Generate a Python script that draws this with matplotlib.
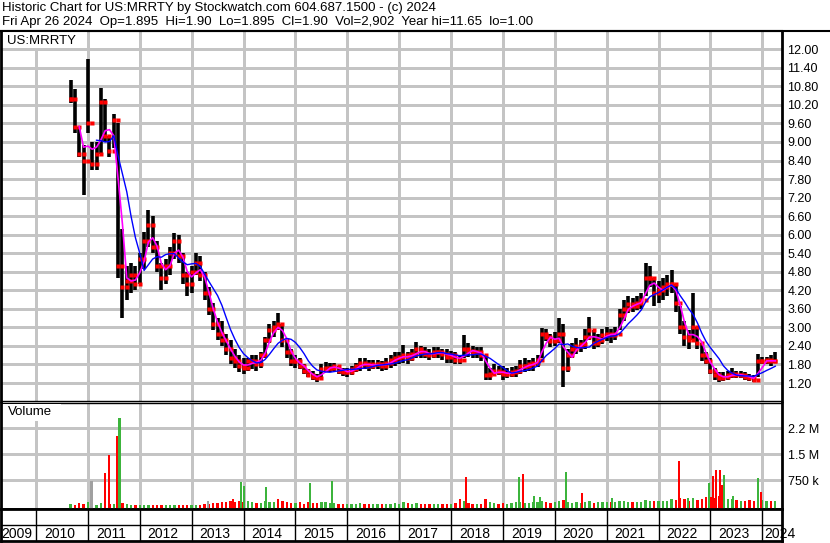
import numpy as np
import pandas as pd
import matplotlib
matplotlib.use("Agg")
import matplotlib.pyplot as plt
from matplotlib.lines import Line2D
from matplotlib.patches import Rectangle

plt.rcParams['font.family'] = ['Liberation Sans', 'DejaVu Sans']

# monthly bars, Sep 2010 .. Apr 2024
months = pd.date_range("2010-09-01", "2024-04-01", freq="MS")

hi = [11.0, 10.7, 9.5, 8.9,
      11.68, 9.0, 9.0, 10.74, 10.4, 9.2, 9.9, 9.6, 6.2, 5.0, 5.1, 5.0,
      5.4, 6.1, 6.8, 6.6, 5.8, 5.1, 5.2, 5.6, 6.05, 6.0, 5.4, 4.8,
      5.0, 5.4, 5.3, 4.8, 4.3, 3.8, 3.3, 3.2, 2.8, 2.6, 2.3, 2.1,
      2.0, 2.0, 2.1, 2.1, 2.2, 2.7, 3.1, 3.2, 3.46, 3.1, 2.6, 2.3,
      2.1, 2.0, 1.8, 1.65, 1.6, 1.5, 1.8, 1.87, 1.85, 1.85, 1.75, 1.7,
      1.7, 1.75, 1.85, 2.0, 2.0, 1.95, 1.95, 1.95, 1.9, 2.0, 2.1, 2.2,
      2.2, 2.43, 2.2, 2.3, 2.53, 2.4, 2.35, 2.3, 2.35, 2.35, 2.3, 2.3,
      2.25, 2.2, 2.1, 2.75, 2.5, 2.4, 2.35, 2.35, 2.1, 1.7, 1.8, 1.75,
      1.75, 1.7, 1.72, 1.75, 1.95, 2.0, 1.95, 2.0, 2.1, 2.97, 2.95, 2.8,
      2.85, 3.3, 3.1, 2.3, 2.5, 2.65, 2.6, 2.95, 3.35, 2.9, 2.8, 2.95,
      3.0, 2.95, 3.0, 3.6, 3.9, 4.0, 3.95, 4.0, 4.1, 5.1, 5.0, 4.6,
      4.5, 4.6, 4.7, 4.86, 4.4, 3.7, 3.2, 2.9, 4.1, 3.0, 2.5, 2.2,
      2.0, 1.7, 1.55, 1.55, 1.6, 1.67, 1.6, 1.6, 1.55, 1.5, 1.45, 2.15,
      2.05, 2.05, 2.1, 2.2]
lo = [10.25, 9.3, 8.5, 7.3,
      9.3, 8.1, 8.1, 8.6, 9.0, 8.5, 8.8, 4.6, 3.3, 3.9, 4.1, 4.2,
      4.4, 4.9, 5.6, 5.4, 4.8, 4.2, 4.4, 4.7, 5.2, 5.1, 4.4, 4.0,
      4.1, 4.7, 4.5, 3.9, 3.4, 2.9, 2.6, 2.4, 2.1, 1.8, 1.7, 1.55,
      1.5, 1.6, 1.65, 1.6, 1.7, 2.0, 2.5, 2.7, 2.9, 2.35, 2.0, 1.75,
      1.7, 1.65, 1.5, 1.4, 1.3, 1.24, 1.35, 1.55, 1.55, 1.6, 1.5, 1.42,
      1.4, 1.45, 1.55, 1.6, 1.65, 1.6, 1.65, 1.65, 1.6, 1.62, 1.7, 1.75,
      1.8, 1.85, 1.8, 1.9, 2.0, 2.0, 2.0, 1.95, 2.0, 2.0, 1.95, 1.85,
      1.85, 1.8, 1.8, 2.0, 2.05, 2.0, 2.0, 1.9, 1.3, 1.3, 1.45, 1.45,
      1.3, 1.35, 1.4, 1.4, 1.5, 1.55, 1.6, 1.6, 1.73, 2.0, 2.55, 2.37,
      2.4, 2.5, 1.08, 1.55, 2.0, 2.15, 2.2, 2.3, 2.6, 2.3, 2.35, 2.45,
      2.55, 2.5, 2.6, 2.9, 3.2, 3.45, 3.5, 3.55, 3.6, 4.0, 4.3, 3.7,
      3.8, 3.9, 4.0, 4.1, 3.5, 2.8, 2.4, 2.3, 2.6, 2.3, 1.9, 1.8,
      1.5, 1.3, 1.23, 1.28, 1.3, 1.35, 1.35, 1.35, 1.3, 1.25, 1.22, 1.4,
      1.8, 1.8, 1.75, 1.85]
cl = [10.4, 9.5, 8.6, 8.4,
      9.6, 8.3, 8.6, 10.3, 9.2, 8.7, 9.7, 5.0, 4.3, 4.5, 4.7, 4.4,
      5.2, 5.8, 6.3, 5.6, 5.0, 4.6, 5.0, 5.4, 5.8, 5.3, 4.7, 4.4,
      4.8, 5.1, 4.7, 4.1, 3.6, 3.1, 2.8, 2.6, 2.3, 2.0, 1.9, 1.75,
      1.7, 1.9, 1.9, 1.8, 2.1, 2.6, 2.9, 3.0, 3.1, 2.6, 2.2, 1.9,
      1.9, 1.75, 1.6, 1.45, 1.4, 1.35, 1.65, 1.7, 1.7, 1.75, 1.6, 1.55,
      1.55, 1.65, 1.75, 1.85, 1.8, 1.75, 1.8, 1.8, 1.75, 1.85, 1.95, 2.0,
      2.05, 2.1, 2.0, 2.15, 2.3, 2.2, 2.15, 2.1, 2.2, 2.2, 2.15, 2.05,
      2.1, 1.95, 1.95, 2.3, 2.25, 2.2, 2.2, 2.1, 1.45, 1.5, 1.6, 1.55,
      1.5, 1.5, 1.55, 1.6, 1.75, 1.75, 1.8, 1.85, 1.95, 2.8, 2.7, 2.55,
      2.6, 2.8, 1.7, 2.1, 2.3, 2.4, 2.45, 2.7, 2.9, 2.5, 2.6, 2.75,
      2.8, 2.75, 2.8, 3.4, 3.6, 3.75, 3.7, 3.8, 3.9, 4.6, 4.6, 4.1,
      4.2, 4.3, 4.4, 4.4, 3.8, 3.0, 2.7, 2.6, 3.0, 2.5, 2.1, 1.9,
      1.6, 1.45, 1.35, 1.4, 1.45, 1.5, 1.45, 1.45, 1.4, 1.35, 1.3, 1.9,
      1.9, 1.95, 1.9, 1.9]
# typical daily volume per month (thousands)
vol = [60, 40, 90, 80,
       120, 60, 50, 90, 70, 60, 80, 120, 90, 60, 40, 30,
       30, 40, 50, 35, 30, 25, 30, 35, 40, 30, 25, 30,
       40, 35, 45, 60, 80, 90, 100, 120, 110, 150, 130, 160,
       120, 140, 110, 90, 100, 150, 130, 120, 160, 140, 110, 100,
       90, 110, 80, 120, 100, 90, 130, 110, 90, 100, 80, 70,
       60, 70, 80, 90, 70, 60, 80, 70, 60, 70, 80, 90,
       80, 120, 90, 70, 100, 80, 70, 60, 70, 80, 60, 70,
       80, 90, 100, 150, 90, 80, 70, 80, 200, 120, 90, 80,
       90, 80, 100, 120, 110, 100, 90, 130, 110, 160, 120, 100,
       110, 140, 180, 120, 100, 110, 90, 120, 140, 100, 110, 120,
       130, 120, 110, 150, 140, 130, 110, 120, 130, 180, 160, 140,
       150, 140, 160, 200, 180, 230, 200, 160, 250, 180, 220, 260,
       280, 250, 300, 260, 220, 200, 180, 160, 150, 170, 140, 230,
       180, 150, 140, 160]

# big single-day volume spikes (decimal year, thousands, direction)
spike_x = [2011.07, 2011.33, 2011.40, 2011.57, 2011.61, 2013.31, 2013.80, 2013.95,
           2014.01, 2014.43, 2014.66, 2015.28, 2015.71, 2018.18, 2018.29, 2019.31,
           2019.39, 2019.60, 2019.71, 2020.22, 2020.52, 2021.10, 2022.39, 2022.56,
           2022.98, 2023.05, 2023.10, 2023.18, 2023.23, 2023.26, 2023.43, 2023.92,
           2023.97]
spike_v = [740, 970, 1480, 2030, 2540, 150, 200, 700,
           590, 560, 200, 670, 730, 200, 850, 850,
           930, 300, 280, 1000, 380, 250, 1310, 250,
           670, 880, 1050, 1050, 600, 900, 300, 830,
           420]
spike_dir = ['n', 'd', 'd', 'd', 'u', 'n', 'd', 'u',
             'u', 'u', 'd', 'u', 'u', 'd', 'd', 'u',
             'd', 'u', 'u', 'u', 'd', 'u', 'd', 'u',
             'u', 'd', 'd', 'd', 'd', 'u', 'u', 'u',
             'd']

years = list(range(2009, 2025))
price_ticks = [1.2 + 0.6 * k for k in range(19)]
vol_ticks = [750e3, 1.5e6, 2.25e6]

W, H = 830, 543
PX_YEAR = 51.88
X0 = 2010 - 36 / PX_YEAR
def px_box(l, t, r, b):
    return [l / W, 1 - b / H, (r - l) / W, (b - t) / H]

GREEN = '#3cb43c'
RED = '#ff0000'
GRID = '#c4c4c4'

x = np.array(months.year + (months.month - 1) / 12.0)
xlim = (X0 + 1 / PX_YEAR, X0 + 782 / PX_YEAR)

fig = plt.figure(figsize=(W / 100, H / 100), dpi=100)
axp = fig.add_axes(px_box(1, 31, 782, 401))
axv = fig.add_axes(px_box(1, 403, 782, 509))
axx = fig.add_axes(px_box(1, 509, 782, 541))

# ---- price panel
opn = [cl[0]] + cl[:-1]
axp.vlines(x, lo, hi, color='black', lw=2.6, zorder=3)
axp.plot(x, opn, 's', color=RED, ms=2.6, mec='none', zorder=4)
axp.plot(x, cl, 's', color=RED, ms=2.6, mec='none', zorder=4)
s = pd.Series(cl)
axp.plot(x, s.rolling(3).mean(), color='#ff00ff', lw=1.2, zorder=5)
axp.plot(x, s.rolling(7).mean(), color='#0000ff', lw=1.0, zorder=5)
axp.set_xlim(xlim)
axp.set_ylim(0.618, 12.592)
axp.set_yticks(price_ticks)
axp.set_yticklabels(['%.2f' % t for t in price_ticks])
axp.hlines(price_ticks, xlim[0], xlim[1], color=GRID, lw=0.75,
           antialiased=False, zorder=1)

# ---- volume panel
vol_floor = -78e3
up = [True] + [cl[i] >= cl[i - 1] for i in range(1, len(cl))]
vcol = [GREEN if u else RED for u in up]
axv.bar(x, np.array(vol) * 1e3 - vol_floor, bottom=vol_floor, width=0.045,
        color=vcol, zorder=3)
dcol = {'u': GREEN, 'd': RED, 'n': '#a0a0a0'}
axv.bar(spike_x, np.array(spike_v) * 1e3 - vol_floor, bottom=vol_floor,
        width=0.04, color=[dcol[d] for d in spike_dir], zorder=4)
axv.set_xlim(xlim)
axv.set_ylim(vol_floor, 2.98e6)
axv.set_yticks(vol_ticks)
axv.set_yticklabels(['750 k', '1.5 M', '2.2 M'])
axv.hlines(vol_ticks, xlim[0], xlim[1], color=GRID, lw=0.75,
           antialiased=False, zorder=1)

for ax in (axp, axv):
    lo_y, hi_y = ax.get_ylim()
    ax.vlines(years[1:], lo_y, hi_y, color=GRID, lw=0.75, antialiased=False, zorder=1)
    ax.set_ylim(lo_y, hi_y)
    ax.set_xticks([])
    ax.yaxis.tick_right()
    ax.tick_params(length=0, pad=4, labelsize=9, colors='black')
    for sp in ax.spines.values():
        sp.set_color('black')
axp.spines['left'].set_linewidth(2)
axp.spines['right'].set_linewidth(2)
axp.spines['top'].set_linewidth(1.5)
axp.spines['bottom'].set_linewidth(1)
axv.spines['left'].set_linewidth(2)
axv.spines['right'].set_linewidth(2)
axv.spines['top'].set_linewidth(1)
axv.spines['bottom'].set_linewidth(2)

# ---- year strip
axx.set_xlim(xlim)
axx.set_ylim(0, 1)
axx.set_xticks([])
axx.set_yticks([])
axx.vlines(years[1:], 0, 1, color='black', lw=1)
axx.axhline(0.5, color='black', lw=1)
for sp in axx.spines.values():
    sp.set_linewidth(2)
for yr in years:
    if yr == 2009:
        xc, ha = X0 + 17 / PX_YEAR, 'center'
    elif yr == 2024:
        xc, ha = yr + 0.03, 'left'
    else:
        xc, ha = yr + 0.45, 'center'
    axx.text(xc, 0.23, str(yr), ha=ha, va='center', fontsize=10, clip_on=False)

# ---- header and labels
fig.add_artist(Line2D([0, 1], [1 - 30.5 / H, 1 - 30.5 / H], color='black', lw=1.5,
                      transform=fig.transFigure))
fig.text(2 / W, 1 - 8 / H, 'Historic Chart for US:MRRTY by Stockwatch.com 604.687.1500 - (c) 2024',
         va='center', fontsize=9.5)
fig.text(2 / W, 1 - 22 / H,
         'Fri Apr 26 2024  Op=1.895  Hi=1.90  Lo=1.895  Cl=1.90  Vol=2,902  Year hi=11.65  lo=1.00',
         va='center', fontsize=9.5)

fig.add_artist(Rectangle((3 / W, 1 - 48 / H), 84 / W, 16 / H, transform=fig.transFigure,
                         fc='white', ec='none'))
fig.text(7 / W, 1 - 41 / H, 'US:MRRTY', va='center', fontsize=9.5)
fig.add_artist(Rectangle((3 / W, 1 - 421 / H), 58 / W, 17 / H, transform=fig.transFigure,
                         fc='white', ec='none'))
fig.text(8 / W, 1 - 412 / H, 'Volume', va='center', fontsize=9.5)

fig.savefig('out.png', dpi=100)
